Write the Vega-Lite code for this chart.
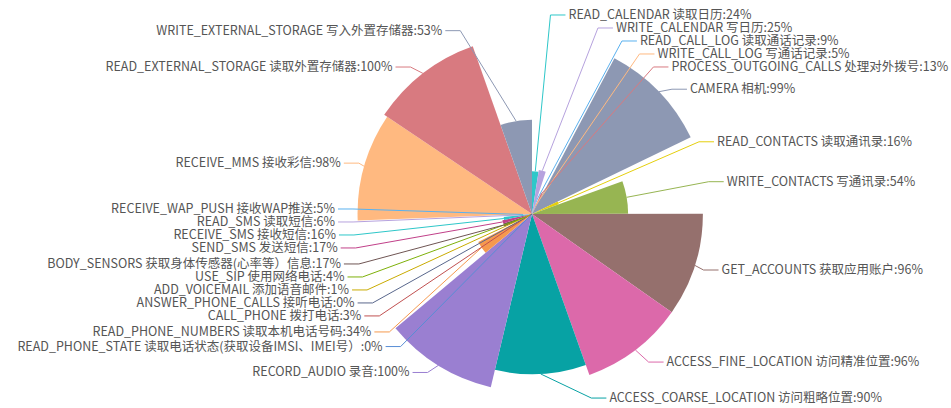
{
  "$schema": "https://vega.github.io/schema/vega-lite/v6.json",
  "width": 838,
  "height": 388,
  "autosize": {"type": "none"},
  "padding": {"left": 113, "top": 20, "right": 0, "bottom": 0},
  "background": "white",
  "config": {"view": {"stroke": null}},
  "data": {
    "values": [
      {"idx": 1, "name": "READ_CALENDAR 读取日历", "value": 24},
      {"idx": 2, "name": "WRITE_CALENDAR 写日历", "value": 25},
      {"idx": 3, "name": "READ_CALL_LOG 读取通话记录", "value": 9},
      {"idx": 4, "name": "WRITE_CALL_LOG 写通话记录", "value": 5},
      {"idx": 5, "name": "PROCESS_OUTGOING_CALLS 处理对外拨号", "value": 13},
      {"idx": 6, "name": "CAMERA  相机", "value": 99},
      {"idx": 7, "name": "READ_CONTACTS 读取通讯录", "value": 16},
      {"idx": 8, "name": "WRITE_CONTACTS 写通讯录", "value": 54},
      {"idx": 9, "name": "GET_ACCOUNTS 获取应用账户", "value": 96},
      {"idx": 10, "name": "ACCESS_FINE_LOCATION 访问精准位置", "value": 96},
      {"idx": 11, "name": "ACCESS_COARSE_LOCATION 访问粗略位置", "value": 90},
      {"idx": 12, "name": "RECORD_AUDIO 录音", "value": 100},
      {"idx": 13, "name": "READ_PHONE_STATE 读取电话状态(获取设备IMSI、IMEI号）", "value": 0},
      {"idx": 14, "name": "READ_PHONE_NUMBERS 读取本机电话号码", "value": 34},
      {"idx": 15, "name": "CALL_PHONE 拨打电话", "value": 3},
      {"idx": 16, "name": "ANSWER_PHONE_CALLS 接听电话", "value": 0},
      {"idx": 17, "name": "ADD_VOICEMAIL 添加语音邮件", "value": 1},
      {"idx": 18, "name": "USE_SIP 使用网络电话", "value": 4},
      {"idx": 19, "name": "BODY_SENSORS 获取身体传感器(心率等）信息", "value": 17},
      {"idx": 20, "name": "SEND_SMS 发送短信", "value": 17},
      {"idx": 21, "name": "RECEIVE_SMS  接收短信", "value": 16},
      {"idx": 22, "name": "READ_SMS 读取短信", "value": 6},
      {"idx": 23, "name": "RECEIVE_WAP_PUSH 接收WAP推送", "value": 5},
      {"idx": 24, "name": "RECEIVE_MMS 接收彩信", "value": 98},
      {"idx": 25, "name": "READ_EXTERNAL_STORAGE 读取外置存储器", "value": 100},
      {"idx": 26, "name": "WRITE_EXTERNAL_STORAGE 写入外置存储器", "value": 53}
    ]
  },
  "transform": [
    {"window": [{"op": "sum", "field": "value", "as": "cum"}], "sort": [{"field": "idx"}]},
    {"joinaggregate": [{"op": "sum", "field": "value", "as": "total"}]},
    {"calculate": "(datum.cum - datum.value / 2) / datum.total * 2 * PI", "as": "ang"},
    {"calculate": "datum.ang < PI ? 1 : -1", "as": "side"},
    {"calculate": "datum.value * sin(datum.ang)", "as": "ex"},
    {"calculate": "-datum.value * cos(datum.ang)", "as": "ey"},
    {"calculate": "-104.5 * cos(datum.ang)", "as": "ny"},
    {"window": [{"op": "row_number", "as": "rk"}, {"op": "count", "as": "n"}], "groupby": ["side"], "sort": [{"field": "ny"}], "frame": [null, null]},
    {"calculate": "datum.ny - 7.3 * datum.rk", "as": "a1"},
    {"window": [{"op": "max", "field": "a1", "as": "m1"}], "groupby": ["side"], "sort": [{"field": "ny"}], "frame": [null, 0]},
    {"window": [{"op": "min", "field": "a1", "as": "m2"}], "groupby": ["side"], "sort": [{"field": "ny"}], "frame": [0, null]},
    {"calculate": "(datum.m1 + datum.m2) / 2 + 7.3 * datum.rk", "as": "yavg"},
    {"calculate": "min(max(datum.yavg, -111.8 + 7.3 * (datum.rk - 1)), 103.4 - 7.3 * (datum.n - datum.rk))", "as": "ly"},
    {"calculate": "datum.ly < 0 ? 112.4 : 109.6", "as": "rb"},
    {"calculate": "datum.side * 100.6 * sqrt(max(0, 1 - datum.ly * datum.ly / (datum.rb * datum.rb)))", "as": "kx"},
    {"calculate": "datum.kx + datum.side * 8.43", "as": "lx"},
    {"calculate": "datum.name + ':' + datum.value + '%'", "as": "label"}
  ],
  "layer": [
    {
      "mark": {"type": "arc"},
      "encoding": {
        "theta": {"field": "value", "type": "quantitative", "stack": true},
        "radius": {"field": "value", "type": "quantitative", "scale": {"type": "linear", "domain": [0, 100], "range": [0, 178], "zero": true}},
        "color": {"field": "idx", "type": "ordinal", "legend": null, "scale": {"range": ["#2ec7c9", "#b6a2de", "#5ab1ef", "#ffb980", "#d87a80", "#8d98b3", "#e5cf0d", "#97b552", "#95706d", "#dc69aa", "#07a2a4", "#9a7fd1", "#588dd5", "#f5994e", "#c05050", "#59678c", "#c9ab00", "#7eb00a", "#6f5553", "#c14089", "#2ec7c9", "#b6a2de", "#5ab1ef", "#ffb980", "#d87a80", "#8d98b3"]}},
        "order": {"field": "idx", "type": "quantitative"}
      }
    },
    {
      "mark": {"type": "rule", "strokeWidth": 1},
      "encoding": {
        "x": {"field": "ex", "type": "quantitative", "scale": {"domain": [-235.39, 235.39], "nice": false, "zero": false}, "axis": null},
        "y": {"field": "ey", "type": "quantitative", "scale": {"domain": [-108.99, 108.99], "nice": false, "zero": false, "reverse": true}, "axis": null},
        "x2": {"field": "kx"},
        "y2": {"field": "ly"},
        "color": {"field": "idx", "type": "ordinal", "legend": null}
      }
    },
    {
      "mark": {"type": "rule", "strokeWidth": 1},
      "encoding": {
        "x": {"field": "kx", "type": "quantitative", "scale": {"domain": [-235.39, 235.39], "nice": false, "zero": false}, "axis": null},
        "y": {"field": "ly", "type": "quantitative", "scale": {"domain": [-108.99, 108.99], "nice": false, "zero": false, "reverse": true}, "axis": null},
        "x2": {"field": "lx"},
        "color": {"field": "idx", "type": "ordinal", "legend": null}
      }
    },
    {
      "transform": [{"filter": "datum.side > 0"}],
      "mark": {"type": "text", "align": "left", "baseline": "middle", "dx": 3, "font": "Noto Sans CJK SC", "fontSize": 12.5, "color": "#555555"},
      "encoding": {
        "x": {"field": "lx", "type": "quantitative", "scale": {"domain": [-235.39, 235.39], "nice": false, "zero": false}, "axis": null},
        "y": {"field": "ly", "type": "quantitative", "scale": {"domain": [-108.99, 108.99], "nice": false, "zero": false, "reverse": true}, "axis": null},
        "text": {"field": "label"}
      }
    },
    {
      "transform": [{"filter": "datum.side < 0"}],
      "mark": {"type": "text", "align": "right", "baseline": "middle", "dx": -3, "font": "Noto Sans CJK SC", "fontSize": 12.5, "color": "#555555"},
      "encoding": {
        "x": {"field": "lx", "type": "quantitative", "scale": {"domain": [-235.39, 235.39], "nice": false, "zero": false}, "axis": null},
        "y": {"field": "ly", "type": "quantitative", "scale": {"domain": [-108.99, 108.99], "nice": false, "zero": false, "reverse": true}, "axis": null},
        "text": {"field": "label"}
      }
    }
  ]
}
